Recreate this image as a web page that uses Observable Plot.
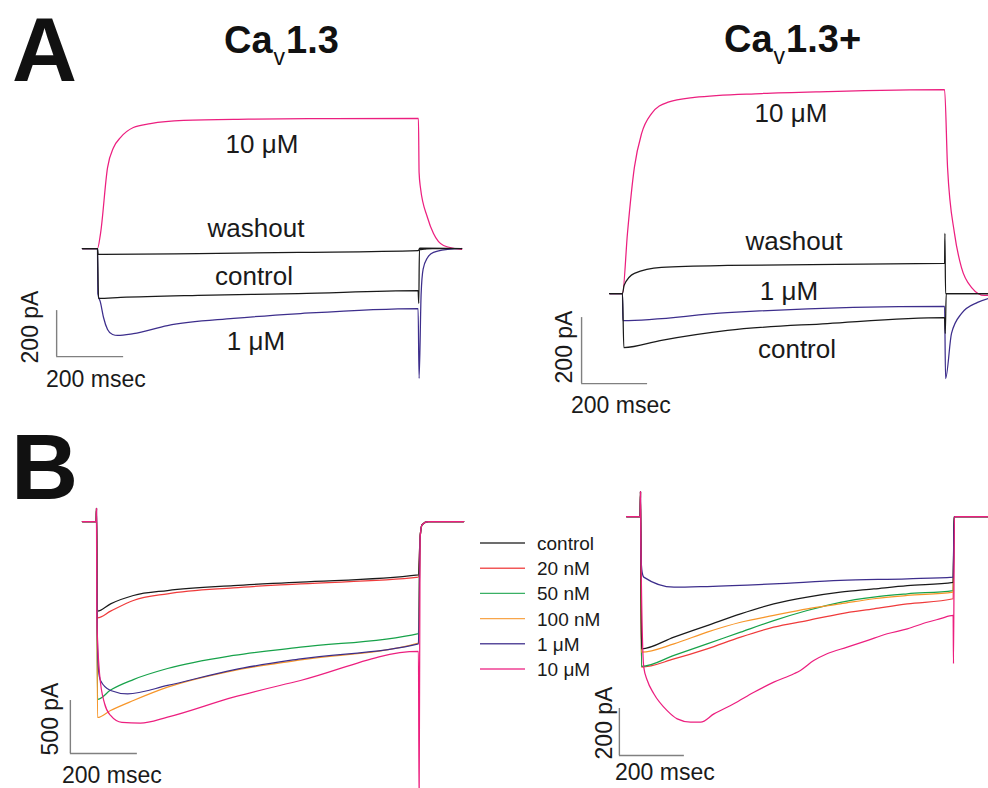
<!DOCTYPE html>
<html>
<head>
<meta charset="utf-8">
<script src="https://cdn.jsdelivr.net/npm/d3@7"></script>
<script src="https://cdn.jsdelivr.net/npm/@observablehq/plot@0.6"></script>
<style>
  html, body { margin: 0; padding: 0; background: #fff; }
  #root { position: relative; width: 988px; height: 788px; overflow: hidden; background: #fff;
          font-family: "Liberation Sans", Arial, sans-serif; color: #1a1a1a; }
  .lbl { position: absolute; white-space: nowrap; line-height: 1; }
</style>
</head>
<body>
<div id="root"></div>
<script>
// ---------------- DATA (time in ms, current in pA) ----------------
// Panel A, left: Cav1.3
const A1_10uM = [[-45,0],[0,0],[9,65],[30,352],[48,439],[69,483],[107,526],[158,543],[257,557],[450,562],[700,565],[958,566],[960,330],[964,265],[985,135],[1003,65],[1033,13],[1087,-4]];
const A1_washout = [[-45,0],[0,0],[2,-26],[300,-22],[600,-17],[958,-9],[962,2],[1087,0]];
const A1_control = [[-45,0],[0,0],[3,-217],[69,-213],[300,-204],[600,-196],[957,-183],[959,-239],[961,-5],[975,-3],[1000,0],[1087,0]];
const A1_1uM = [[-45,0],[0,0],[1,-196],[9,-235],[18,-300],[30,-352],[45,-374],[60,-378],[107,-370],[209,-335],[406,-304],[606,-283],[957,-261],[960,-565],[966,-200],[972,-90],[985,-40],[1003,-17],[1045,-4],[1087,0]];

// Panel A, right: Cav1.3+
const A2_10uM = [[-39,0],[0,0],[15,182],[36,382],[58,485],[88,545],[136,579],[218,594],[421,606],[621,612],[976,618],[985,382],[1006,182],[1027,79],[1058,18],[1097,-6],[1109,-6]];
const A2_washout = [[-39,0],[0,0],[5,25],[36,61],[118,79],[318,85],[976,91],[977,182],[979,0],[1109,0]];
const A2_1uM = [[-39,0],[0,0],[1,-82],[318,-58],[976,-39],[979,-258],[997,-121],[1027,-61],[1076,-27],[1109,-15]];
const A2_control = [[-39,0],[0,0],[4,-164],[118,-142],[318,-112],[621,-91],[976,-73],[978,-121],[981,0],[1109,0]];

// Panel B, left: Cav1.3 dose series
const B1_control = [[-42,0],[-1,0],[0,123],[3,-846],[42,-777],[110,-698],[212,-651],[409,-604],[609,-572],[961,-503],[966,-150],[972,-30],[990,0],[1096,0]];
const B1_20nM = [[-42,0],[-1,0],[0,123],[3,-909],[42,-846],[110,-745],[212,-682],[409,-626],[609,-588],[961,-525],[966,-150],[972,-30],[990,0],[1096,0]];
const B1_50nM = [[-42,0],[-1,0],[0,123],[3,-1679],[42,-1590],[110,-1491],[212,-1387],[409,-1264],[609,-1186],[961,-1057],[966,-150],[972,-30],[990,0],[1096,0]];
const B1_100nM = [[-42,0],[-1,0],[0,123],[3,-1849],[42,-1783],[110,-1689],[212,-1563],[409,-1406],[609,-1305],[961,-1148],[966,-150],[972,-30],[990,0],[1096,0]];
const B1_1uM = [[-42,0],[-1,0],[0,123],[2,-1000],[6,-1400],[12,-1500],[42,-1594],[93,-1626],[212,-1547],[409,-1399],[609,-1296],[961,-1154],[966,-150],[972,-30],[990,0],[1096,0]];
const B1_10uM = [[-42,0],[-1,0],[0,123],[1,-906],[9,-1434],[24,-1717],[42,-1830],[76,-1896],[131,-1903],[212,-1846],[409,-1657],[609,-1500],[961,-1226],[963,-2700],[966,-150],[972,-30],[990,0],[1096,0]];

// Panel B, right: Cav1.3+ dose series
const B2_control = [[-43,0],[-1,0],[0,106],[3,-563],[103,-513],[205,-464],[308,-414],[410,-372],[513,-343],[615,-322],[718,-308],[821,-294],[962,-280],[965,0],[1071,0]];
const B2_20nM = [[-43,0],[-1,0],[0,106],[3,-641],[103,-606],[205,-563],[308,-513],[410,-471],[513,-443],[615,-414],[718,-393],[821,-372],[962,-350],[965,0],[1071,0]];
const B2_50nM = [[-43,0],[-1,0],[0,106],[3,-638],[103,-591],[205,-542],[308,-492],[410,-443],[513,-400],[615,-365],[718,-343],[821,-329],[962,-315],[965,0],[1071,0]];
const B2_100nM = [[-43,0],[-1,0],[0,106],[3,-577],[103,-542],[205,-492],[308,-450],[410,-421],[513,-393],[615,-372],[718,-350],[821,-336],[962,-322],[965,0],[1071,0]];
const B2_1uM = [[-43,0],[-1,0],[0,106],[1,-150],[5,-237],[10,-258],[103,-301],[205,-298],[410,-287],[615,-272],[821,-265],[962,-258],[965,0],[1071,0]];
const B2_10uM = [[-43,0],[-1,0],[0,106],[1,-100],[10,-641],[21,-698],[41,-754],[82,-826],[113,-861],[154,-875],[185,-875],[226,-840],[287,-797],[349,-748],[410,-705],[472,-669],[492,-655],[533,-613],[574,-584],[636,-556],[697,-528],[759,-499],[821,-478],[882,-450],[923,-435],[962,-421],[963,-626],[966,0],[1071,0]];

// Legend / series names
const doseNames = ["control", "20 nM", "50 nM", "100 nM", "1 μM", "10 μM"];
const scaleTime = 200;              // ms
const scaleCurrentA = 200;          // pA
const scaleCurrentB1 = 500;         // pA
const scaleCurrentB2 = 200;         // pA

// ---------------- STYLE ----------------
const C = {
  pink: "#ec1f7f", purple: "#3d2e8c", black: "#1a1a1a",
  red: "#ef3b3b", green: "#17a24a", orange: "#f7962a", bar: "#808080"
};
const doseColors = [C.black, C.red, C.green, C.orange, C.purple, C.pink];

const root = document.getElementById("root");

function panel(cal, box, series, bar) {
  const tAt = px => (px - cal.x0) / cal.kx;
  const iAt = py => (cal.y0 - py) / cal.ky;
  const marks = series.map(s => Plot.line(s.data, {
    x: d => d[0], y: d => d[1], stroke: s.color, strokeWidth: 1.25, curve: "monotone-x"
  }));
  marks.push(Plot.ruleX([bar.t], {y1: bar.i, y2: bar.i + bar.di, stroke: C.bar, strokeWidth: 1.4}));
  marks.push(Plot.ruleY([bar.i], {x1: bar.t, x2: bar.t + bar.dt, stroke: C.bar, strokeWidth: 1.4}));
  const svg = Plot.plot({
    width: box.w, height: box.h, margin: 0,
    x: {domain: [tAt(box.left), tAt(box.left + box.w)], axis: null},
    y: {domain: [iAt(box.top + box.h), iAt(box.top)], axis: null},
    style: {background: "transparent", overflow: "hidden"},
    marks
  });
  svg.style.position = "absolute";
  svg.style.left = box.left + "px";
  svg.style.top = box.top + "px";
  root.appendChild(svg);
}

// A left
panel({x0: 97, kx: 0.335, y0: 248, ky: 0.23}, {left: 40, top: 80, w: 440, h: 320},
  [{data: A1_10uM, color: C.pink}, {data: A1_1uM, color: C.purple},
   {data: A1_washout, color: C.black}, {data: A1_control, color: C.black}],
  {t: -122, i: -470, di: scaleCurrentA, dt: scaleTime});

// A right
panel({x0: 622, kx: 0.33, y0: 293, ky: 0.33}, {left: 560, top: 70, w: 428, h: 340},
  [{data: A2_10uM, color: C.pink}, {data: A2_1uM, color: C.purple},
   {data: A2_washout, color: C.black}, {data: A2_control, color: C.black}],
  {t: -124, i: -273, di: scaleCurrentA, dt: scaleTime});

// B left
const B1 = [B1_control, B1_20nM, B1_50nM, B1_100nM, B1_1uM, B1_10uM];
panel({x0: 96, kx: 0.335, y0: 521, ky: 0.106}, {left: 40, top: 470, w: 440, h: 318},
  [1, 0, 2, 3, 4, 5].map(k => ({data: B1[k], color: doseColors[k]})),
  {t: -78, i: -2189, di: scaleCurrentB1, dt: scaleTime});

// B right
const B2 = [B2_control, B2_20nM, B2_50nM, B2_100nM, B2_1uM, B2_10uM];
panel({x0: 640, kx: 0.325, y0: 516, ky: 0.235}, {left: 560, top: 470, w: 428, h: 318},
  [1, 2, 3, 0, 4, 5].map(k => ({data: B2[k], color: doseColors[k]})),
  {t: -65, i: -1017, di: scaleCurrentB2, dt: scaleTime});

// ---------------- TEXT ----------------
function label(html, x, baseline, o = {}) {
  const fs = o.size || 26;
  const el = document.createElement("div");
  el.className = "lbl";
  el.innerHTML = html;
  el.style.fontSize = fs + "px";
  if (o.weight) el.style.fontWeight = o.weight;
  if (o.rotate) {
    el.style.left = x + "px";
    el.style.top = baseline + "px";
    el.style.transform = "translate(-50%,-50%) rotate(-90deg)";
  } else {
    el.style.top = (baseline - 0.8465 * fs) + "px";
    el.style.left = x + "px";
    if (o.anchor === "middle") el.style.transform = "translateX(-50%)";
  }
  if (o.color) el.style.color = o.color;
  root.appendChild(el);
  return el;
}

label("A", 12, 81.5, {size: 90, weight: 900, color: "#111"});
label("B", 11, 500, {size: 93, weight: 900, color: "#111"});

const sub = '<span style="font-size:23px;font-weight:normal;vertical-align:-12px;margin:0 1px">v</span>';
label("Ca" + sub + "1.3", 224, 53, {size: 38, weight: "bold", color: "#111"});
label("Ca" + sub + "1.3+", 724, 52, {size: 38, weight: "bold", color: "#111"});

// curve labels
label("10 μM", 262, 153, {anchor: "middle"});
label("washout", 256, 237, {anchor: "middle"});
label("control", 254, 285, {anchor: "middle"});
label("1 μM", 256, 350, {anchor: "middle"});

label("10 μM", 791, 122, {anchor: "middle"});
label("washout", 794, 250, {anchor: "middle"});
label("1 μM", 789, 300, {anchor: "middle"});
label("control", 797, 358, {anchor: "middle"});

// scale-bar labels
label(scaleCurrentA + " pA", 30, 327, {size: 23, rotate: true});
label(scaleTime + " msec", 46, 387, {size: 23});
label(scaleCurrentA + " pA", 564, 347, {size: 23, rotate: true});
label(scaleTime + " msec", 571, 413, {size: 23});
label(scaleCurrentB1 + " pA", 50, 719, {size: 23, rotate: true});
label(scaleTime + " msec", 62, 783, {size: 23});
label(scaleCurrentB2 + " pA", 604, 723, {size: 23, rotate: true});
label(scaleTime + " msec", 615, 780, {size: 23});

// legend (swatch lines + names)
const leg = d3.create("svg")
  .attr("width", 50).attr("height", 160)
  .style("position", "absolute").style("left", "478px").style("top", "530px");
leg.selectAll("line").data(doseNames).join("line")
  .attr("x1", 2).attr("x2", 47)
  .attr("y1", (d, k) => 13 + k * 25.2).attr("y2", (d, k) => 13 + k * 25.2)
  .attr("stroke", (d, k) => doseColors[k]).attr("stroke-width", 1.4).attr("stroke-opacity", 0.85);
root.appendChild(leg.node());
doseNames.forEach((name, k) => label(name, 537, 550 + k * 25.2, {size: 19}));
</script>
</body>
</html>
